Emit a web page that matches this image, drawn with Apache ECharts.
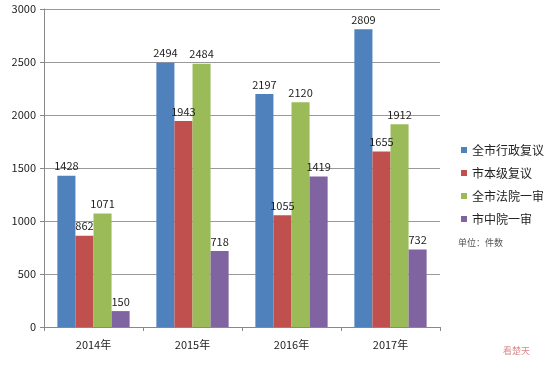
<!DOCTYPE html>
<html lang="zh">
<head>
    <meta charset="utf-8">
    <title>复议与诉讼统计</title>
    <script src="https://cdn.jsdelivr.net/npm/echarts@6/dist/echarts.min.js"></script>
</head>
<body style="margin:0; background:#fff;">
<div id="main" style="width: 550px; height: 366px;"></div>
<script type="text/javascript">
    // 年份
    const years = ['2014年', '2015年', '2016年', '2017年'];
    // 四个系列
    const cityAdmin = [1428, 2494, 2197, 2809];
    const cityLevel = [862, 1943, 1055, 1655];
    const cityCourt = [1071, 2484, 2120, 1912];
    const midCourt = [150, 718, 1419, 732];
    const seriesNames = ['全市行政复议', '市本级复议', '全市法院一审', '市中院一审'];
    const colors = ['#4F81BD', '#C0504D', '#9BBB59', '#8064A2'];

    const font = '"Noto Sans CJK SC", "DejaVu Sans", sans-serif';

    function makeSeries(name, data) {
        return {
            name: name,
            type: 'bar',
            barGap: '0%',
            barCategoryGap: '27%',
            data: data,
            label: {
                show: true,
                position: 'top',
                distance: 4,
                color: '#222',
                fontSize: 11,
                fontFamily: font
            }
        };
    }

    let myChart = echarts.init(document.getElementById('main'));
    const option = {
        animation: false,
        color: colors,
        grid: { left: 44, right: 110, top: 9, bottom: 39 },
        legend: {
            orient: 'vertical',
            left: 456,
            top: 139,
            icon: 'rect',
            itemWidth: 6,
            itemHeight: 6,
            itemGap: 11,
            textStyle: { fontSize: 12, color: '#222', fontFamily: font },
            data: seriesNames
        },
        graphic: [
            {
                type: 'text',
                left: 458,
                top: 238,
                style: { text: '单位：件数', fill: '#555', font: '9px ' + font }
            },
            {
                type: 'text',
                left: 503,
                top: 346,
                style: { text: '看楚天', fill: '#d98a8a', font: '9px ' + font }
            }
        ],
        xAxis: {
            type: 'category',
            data: years,
            axisLine: { lineStyle: { color: '#888' } },
            axisTick: { show: true, length: 4, lineStyle: { color: '#888' } },
            axisLabel: { color: '#222', fontSize: 11, margin: 12, fontFamily: font }
        },
        yAxis: {
            type: 'value',
            min: 0,
            max: 3000,
            interval: 500,
            axisLine: { show: true, lineStyle: { color: '#888' } },
            axisTick: { show: true, length: 4, lineStyle: { color: '#888' } },
            splitLine: { lineStyle: { color: '#999' } },
            axisLabel: {
                color: '#222',
                fontSize: 11,
                margin: 8,
                fontFamily: font,
                formatter: function (v) { return String(v); }
            }
        },
        series: [
            makeSeries(seriesNames[0], cityAdmin),
            makeSeries(seriesNames[1], cityLevel),
            makeSeries(seriesNames[2], cityCourt),
            makeSeries(seriesNames[3], midCourt)
        ]
    };
    myChart.setOption(option);
</script>
</body>
</html>
